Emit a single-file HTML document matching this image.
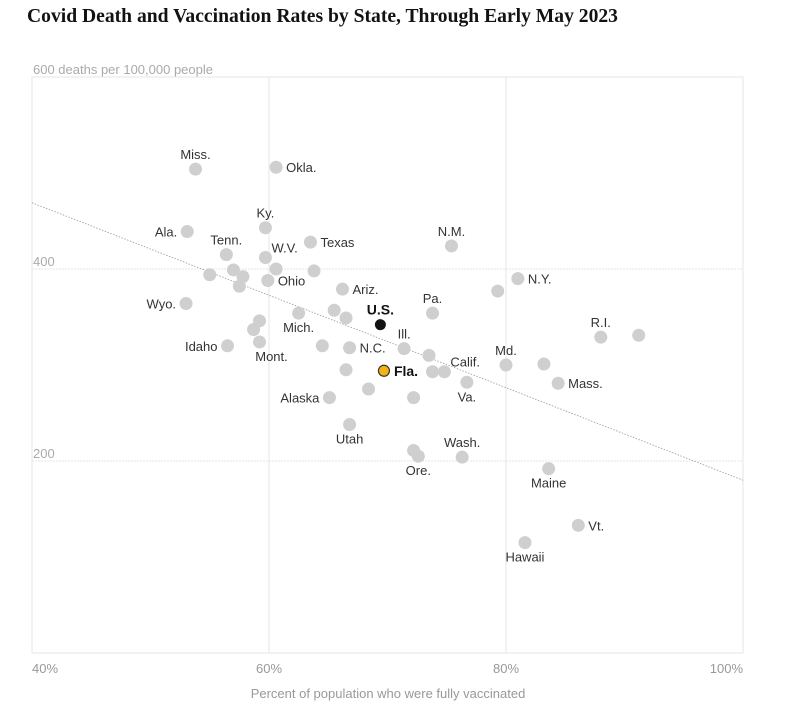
<!DOCTYPE html>
<html><head><meta charset="utf-8">
<style>
body{margin:0;background:#fff;width:805px;height:716px;overflow:hidden;font-family:"Liberation Sans",sans-serif}
h1{position:absolute;left:27px;top:6px;margin:0;font-family:"Liberation Serif",serif;font-weight:bold;font-size:19.6px;color:#121212}
svg{position:absolute;left:0;top:0}
</style></head><body>
<h1>Covid Death and Vaccination Rates by State, Through Early May 2023</h1>
<svg id="chart" width="805" height="716"></svg>
<script>
const names=["Miss.","Okla.","Ala.","Ky.","Tenn.","W.V.","Texas","","","","","Ohio","","","Ariz.","Wyo.","","","Mich.","","","Mont.","Idaho","","N.C.","U.S.","Ill.","","Pa.","N.M.","N.Y.","","Fla.","","Calif.","","Va.","","Alaska","","Utah","","Ore.","Wash.","Md.","","Mass.","R.I.","","Maine","Vt.","Hawaii"];
const vaccPct=[53.8,60.6,53.1,59.7,56.4,59.7,63.5,55.0,57.0,57.8,57.5,59.9,60.6,63.8,66.2,53.0,65.5,66.5,62.5,59.2,58.7,59.2,56.5,64.5,66.8,69.4,71.4,73.5,73.8,75.4,81.0,79.3,69.7,66.5,74.8,73.8,76.7,68.4,65.1,72.2,66.8,72.2,72.6,76.3,80.0,83.2,84.4,88.0,91.2,83.6,86.1,81.6];
const deaths=[504,506,439,443,415,412,428,394,399,392,382,388,400,398,379,364,357,349,354,346,337,324,320,320,318,342,317,310,354,424,390,377,294,295,293,293,282,275,266,266,238,211,205,204,300,301,281,329,331,192,133,115];
const labelPos=["a","r","l","a","a","ar","r","","","","b","r","","","r","l","","","b","","","br","l","","r","a","a","","a","a","r","","r","","ar","","b","","l","","b","","b","a","a","","r","a","","b","r","b"];
const xTicks=[40,60,80,100];
const yTicks=[200,400,600];
const trendX=[40,100];
const trendY=[469,180];

const L=32,R=743,T=77,B=653;
const x=v=>L+(v-40)/60*(R-L);
const y=v=>B-(v/600)*(B-T);
const svg=document.getElementById('chart');
const NS='http://www.w3.org/2000/svg';
function mk(t,a,p){const e=document.createElementNS(NS,t);for(const k in a)e.setAttribute(k,a[k]);(p||svg).appendChild(e);return e;}

const frame=mk('rect',{x:L,y:T,width:R-L,height:B-T,fill:'none',stroke:'#e6e6e6'});


xTicks.forEach(t=>{
  const gl=mk('line',{x1:x(t),x2:x(t),y1:T,y2:B,stroke:'#e6e6e6'});
  
  
  const tx=mk('text',{x:x(t),y:B+20,'font-size':13,fill:'#999','text-anchor':t===40?'start':(t===100?'end':'middle')});
  tx.textContent=t+'%';
  
  
});
yTicks.forEach(t=>{
  if(t<600){
    const gl=mk('line',{x1:L,x2:R,y1:y(t),y2:y(t),stroke:'#e6e6e6','stroke-dasharray':'2,1'});
    
    
  }
  const tx=mk('text',{x:L+1,y:y(t)-3,'font-size':13,fill:'#aaa'});
  tx.textContent=t===600?'600 deaths per 100,000 people':String(t);
  
  
});
const tl=mk('line',{x1:x(trendX[0]),y1:y(trendY[0]),x2:x(trendX[1]),y2:y(trendY[1]),stroke:'#999','stroke-width':0.8,'stroke-dasharray':'1.5,1.5'});



const xt=mk('text',{x:388,y:698,'font-size':13,fill:'#999','text-anchor':'middle'});
xt.textContent='Percent of population who were fully vaccinated';



vaccPct.forEach((v,i)=>{
  const n=names[i];
  const cx=x(v),cy=y(deaths[i]);
  let fill='#cfcfcf',stroke='none';
  if(n==='U.S.'){fill='#121212';}
  if(n==='Fla.'){fill='#f5b313';stroke='#333';}
  const c=mk('circle',{cx:cx,cy:cy,r:n==='U.S.'||n==='Fla.'?5.5:6.5,fill:fill,stroke:stroke,'stroke-width':1.2});
  
  
  if(!n)return;
  const p=labelPos[i];
  let tx=cx,ty=cy,anc='middle';
  if(p==='a'){ty=cy-10;}
  else if(p==='b'){ty=cy+19;}
  else if(p==='l'){tx=cx-10;ty=cy+5;anc='end';}
  else if(p==='r'){tx=cx+10;ty=cy+5;anc='start';}
  else if(p==='ar'){tx=cx+6;ty=cy-5;anc='start';}
  else if(p==='br'){tx=cx+12;ty=cy+19;}
  const bold=(n==='U.S.'||n==='Fla.');
  const t=mk('text',{x:tx,y:ty,'font-size':bold?14:13,'font-weight':bold?'bold':'normal',fill:bold?'#121212':'#333','text-anchor':anc});
  t.textContent=n;
  
  
});
</script>
</body></html>
